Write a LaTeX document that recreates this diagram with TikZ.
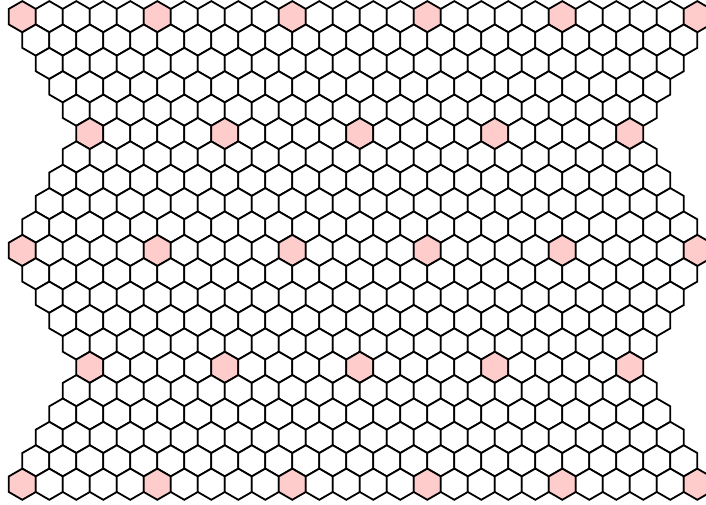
\documentclass[tikz,border=0pt]{standalone}
\usepackage{tikz}

\begin{document}
\begin{tikzpicture}[
  x=1pt, y=1pt,
  cell/.style={draw=black, line width=1.8pt, line join=miter, fill=white},
  pinkcell/.style={cell, fill=red!20}
]

% ---------- Frame (706 x 505) ----------
\useasboundingbox (0,0) rectangle (706,-505);
\clip (0,0) rectangle (706,-505);

% ---------- Rows of hexagons ----------
\foreach \r in {0,...,20} {
  \pgfmathtruncatemacro\m{mod(\r,10)}
  \pgfmathtruncatemacro\d{min(\m,10-\m)}
  \pgfmathtruncatemacro\n{25-\d}
  \foreach \k in {0,...,\n} {
    \pgfmathsetmacro\cx{22.3+13.5*\d+27*\k}
    \pgfmathsetmacro\cy{-16.7-23.375*\r}
    \pgfmathtruncatemacro\p{and(mod(\d,5)==0,mod(\k,5)==0)}
    \ifnum\p=1
      \def\hexstyle{pinkcell}
    \else
      \def\hexstyle{cell}
    \fi
    \draw[\hexstyle] (\cx,\cy) +(90:15.58) -- +(150:15.58) -- +(210:15.58)
      -- +(270:15.58) -- +(330:15.58) -- +(30:15.58) -- cycle;
  }
}

\end{tikzpicture}
\end{document}
